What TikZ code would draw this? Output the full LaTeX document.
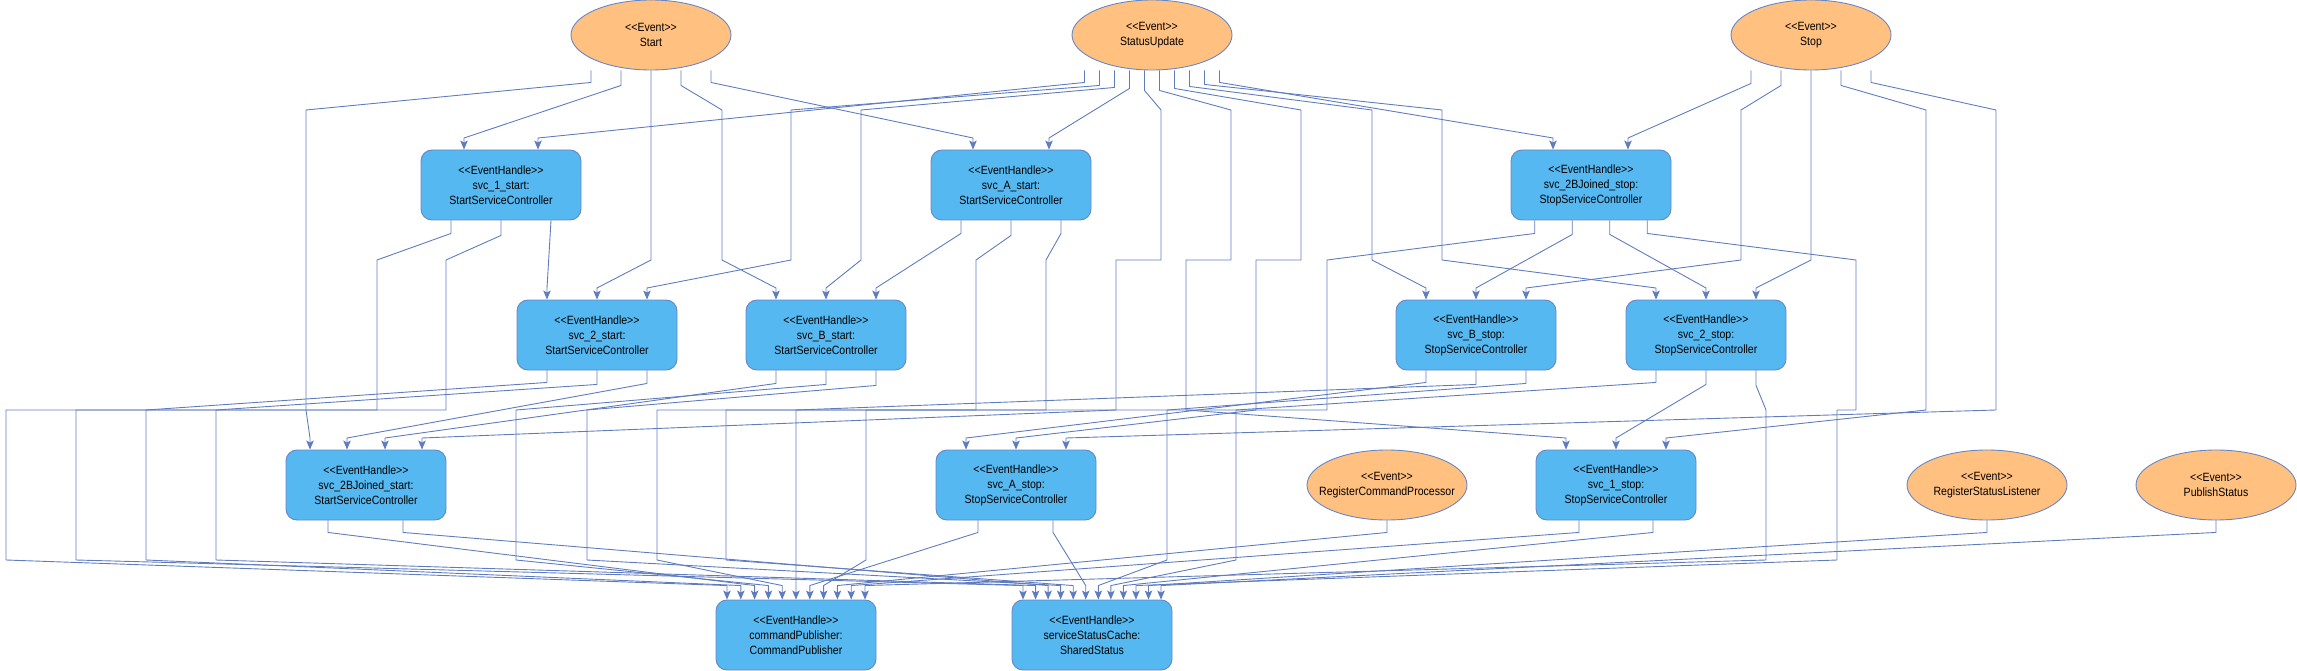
\documentclass[tikz,border=0pt]{standalone}
\usepackage{fontspec}
\setmainfont{Liberation Sans}[FakeStretch=0.88, Ligatures=TeXOff]
\usetikzlibrary{shapes.geometric, arrows.meta}
\definecolor{ec}{RGB}{96,124,192}
\definecolor{bf}{RGB}{85,184,240}
\definecolor{bc}{RGB}{104,134,196}
\definecolor{ef}{RGB}{255,192,128}
\begin{document}
\begin{tikzpicture}[x=1pt,y=-1pt,
  eh/.style={rectangle, rounded corners=11pt, draw=bc, fill=bf, line width=0.9pt,
    minimum width=160pt, minimum height=70pt, inner sep=0pt, align=center,
    font=\fontsize{12pt}{15pt}\selectfont},
  ev/.style={ellipse, draw=bc, fill=ef, line width=0.9pt,
    minimum width=160pt, minimum height=70pt, inner ysep=0pt, inner xsep=-30pt, align=center,
    font=\fontsize{12pt}{15pt}\selectfont},
  edge/.style={draw=ec, line width=0.9pt, line join=round,
    -{Stealth[length=9pt,width=7.5pt,inset=2pt]}}]
\useasboundingbox (0,0) rectangle (2297,671);
% nodes
\node[ev] (Start) at (651,35) {<<Event>>\\Start};
\node[ev] (SU) at (1152,35) {<<Event>>\\StatusUpdate};
\node[ev] (Stop) at (1811,35) {<<Event>>\\Stop};
\node[eh] (s1start) at (501,185) {<<EventHandle>>\\svc\_1\_start:\\StartServiceController};
\node[eh] (sAstart) at (1011,185) {<<EventHandle>>\\svc\_A\_start:\\StartServiceController};
\node[eh] (s2Bstop) at (1591,185) {<<EventHandle>>\\svc\_2BJoined\_stop:\\StopServiceController};
\node[eh] (s2start) at (597,335) {<<EventHandle>>\\svc\_2\_start:\\StartServiceController};
\node[eh] (sBstart) at (826,335) {<<EventHandle>>\\svc\_B\_start:\\StartServiceController};
\node[eh] (sBstop) at (1476,335) {<<EventHandle>>\\svc\_B\_stop:\\StopServiceController};
\node[eh] (s2stop) at (1706,335) {<<EventHandle>>\\svc\_2\_stop:\\StopServiceController};
\node[eh] (s2Bstart) at (366,485) {<<EventHandle>>\\svc\_2BJoined\_start:\\StartServiceController};
\node[eh] (sAstop) at (1016,485) {<<EventHandle>>\\svc\_A\_stop:\\StopServiceController};
\node[ev] (RCP) at (1387,485) {<<Event>>\\RegisterCommandProcessor};
\node[eh] (s1stop) at (1616,485) {<<EventHandle>>\\svc\_1\_stop:\\StopServiceController};
\node[ev] (RSL) at (1987,485) {<<Event>>\\RegisterStatusListener};
\node[ev] (PS) at (2216,485) {<<Event>>\\PublishStatus};
\node[eh] (cmd) at (796,635) {<<EventHandle>>\\commandPublisher:\\CommandPublisher};
\node[eh] (cache) at (1092,635) {<<EventHandle>>\\serviceStatusCache:\\SharedStatus};
% Start
\draw[edge] ([xshift=-60pt]Start.south) -- ++(0,12) -- (306,110) -- (306,410) -- (310,438) -- ([xshift=-56pt]s2Bstart.north);
\draw[edge] ([xshift=-30pt]Start.south) -- ++(0,15) -- (464,138) -- ([xshift=-37pt]s1start.north);
\draw[edge] (Start.south) -- (651,260) -- (597,288) -- (s2start.north);
\draw[edge] ([xshift=30pt]Start.south) -- ++(0,15) -- (722,110) -- (722,260) -- (776,288) -- ([xshift=-50pt]sBstart.north);
\draw[edge] ([xshift=60pt]Start.south) -- ++(0,12) -- (973,138) -- ([xshift=-38pt]sAstart.north);
% StatusUpdate
\draw[edge] ([xshift=-67.5pt]SU.south) -- ++(0,12) -- (538,138) -- ([xshift=37pt]s1start.north);
\draw[edge] ([xshift=-52.5pt]SU.south) -- ++(0,15) -- (791,110) -- (791,260) -- (647,288) -- ([xshift=50pt]s2start.north);
\draw[edge] ([xshift=-37.5pt]SU.south) -- ++(0,17) -- (861,110) -- (861,260) -- (826,288) -- (sBstart.north);
\draw[edge] ([xshift=-22.5pt]SU.south) -- ++(0,18) -- (1049,138) -- ([xshift=38pt]sAstart.north);
\draw[edge] ([xshift=-7.5pt]SU.south) -- ++(0,20) -- (1161,110) -- (1161,260) -- (1116,260) -- (1116,410) -- (422,438) -- ([xshift=56pt]s2Bstart.north);
\draw[edge] ([xshift=7.5pt]SU.south) -- ++(0,20) -- (1231,110) -- (1231,260) -- (1186,260) -- (1186,410) -- (1566,438) -- ([xshift=-50pt]s1stop.north);
\draw[edge] ([xshift=22.5pt]SU.south) -- ++(0,18) -- (1301,110) -- (1301,260) -- (1256,260) -- (1256,410) -- (1016,438) -- (sAstop.north);
\draw[edge] ([xshift=37.5pt]SU.south) -- ++(0,16) -- (1372,110) -- (1372,260) -- (1426,288) -- ([xshift=-50pt]sBstop.north);
\draw[edge] ([xshift=52.5pt]SU.south) -- ++(0,14) -- (1442,110) -- (1442,260) -- (1656,288) -- ([xshift=-50pt]s2stop.north);
\draw[edge] ([xshift=67.5pt]SU.south) -- ++(0,12) -- (1553,138) -- ([xshift=-38pt]s2Bstop.north);
% Stop
\draw[edge] ([xshift=-60pt]Stop.south) -- ++(0,13) -- (1628,138) -- ([xshift=37pt]s2Bstop.north);
\draw[edge] ([xshift=-30pt]Stop.south) -- ++(0,15) -- (1741,110) -- (1741,260) -- (1526,288) -- ([xshift=50pt]sBstop.north);
\draw[edge] (Stop.south) -- (1811,260) -- (1756,288) -- ([xshift=50pt]s2stop.north);
\draw[edge] ([xshift=30pt]Stop.south) -- ++(0,15) -- (1926,110) -- (1926,410) -- (1666,438) -- ([xshift=50pt]s1stop.north);
\draw[edge] ([xshift=60pt]Stop.south) -- ++(0,12) -- (1996,110) -- (1996,410) -- (1066,438) -- ([xshift=50pt]sAstop.north);
% svc_1_start
\draw[edge] ([xshift=-50pt]s1start.south) -- ++(0,13) -- (377,260) -- (377,410) -- (6,410) -- (6,560) -- ([xshift=-69pt,yshift=14pt]cmd.north) -- ([xshift=-69pt]cmd.north);
\draw[edge] (s1start.south) -- ++(0,15) -- (446,260) -- (446,410) -- (76,410) -- (76,560) -- ([xshift=-69pt,yshift=14pt]cache.north) -- ([xshift=-69pt]cache.north);
\draw[edge] ([xshift=50pt]s1start.south) -- (547,288) -- ([xshift=-50pt]s2start.north);
% svc_A_start
\draw[edge] ([xshift=-50pt]sAstart.south) -- ++(0,13) -- (876,288) -- ([xshift=50pt]sBstart.north);
\draw[edge] (sAstart.south) -- ++(0,15) -- (976,260) -- (976,410) -- (657,410) -- (657,560) -- ([xshift=-13.8pt,yshift=14pt]cmd.north) -- ([xshift=-13.8pt]cmd.north);
\draw[edge] ([xshift=50pt]sAstart.south) -- ++(0,13) -- (1046,260) -- (1046,410) -- (726,410) -- (726,560) -- ([xshift=-18.8pt,yshift=14pt]cache.north) -- ([xshift=-18.8pt]cache.north);
% svc_2BJoined_stop
\draw[edge] ([xshift=-56.25pt]s2Bstop.south) -- ++(0,13) -- (1327,260) -- (1327,410) -- (866,410) -- (866,560) -- ([xshift=27.6pt,yshift=14pt]cmd.north) -- ([xshift=27.6pt]cmd.north);
\draw[edge] ([xshift=-18.75pt]s2Bstop.south) -- ++(0,14) -- (1476,288) -- (sBstop.north);
\draw[edge] ([xshift=18.75pt]s2Bstop.south) -- ++(0,14) -- (1706,288) -- (s2stop.north);
\draw[edge] ([xshift=56.25pt]s2Bstop.south) -- ++(0,13) -- (1856,260) -- (1856,410) -- (1837,410) -- (1837,560) -- ([xshift=43.95pt,yshift=14pt]cache.north) -- ([xshift=43.95pt]cache.north);
% svc_2_start
\draw[edge] ([xshift=-50pt]s2start.south) -- ++(0,12) -- (146,410) -- (146,560) -- ([xshift=-55.2pt,yshift=14pt]cmd.north) -- ([xshift=-55.2pt]cmd.north);
\draw[edge] (s2start.south) -- ++(0,14) -- (216,410) -- (216,560) -- ([xshift=-56.45pt,yshift=14pt]cache.north) -- ([xshift=-56.45pt]cache.north);
\draw[edge] ([xshift=50pt]s2start.south) -- ++(0,13) -- (347,438) -- ([xshift=-19pt]s2Bstart.north);
% svc_B_start
\draw[edge] ([xshift=-50pt]sBstart.south) -- ++(0,13) -- (385,438) -- ([xshift=19pt]s2Bstart.north);
\draw[edge] (sBstart.south) -- ++(0,14) -- (516,410) -- (516,560) -- ([xshift=-27.6pt,yshift=14pt]cmd.north) -- ([xshift=-27.6pt]cmd.north);
\draw[edge] ([xshift=50pt]sBstart.south) -- ++(0,15) -- (587,410) -- (587,560) -- ([xshift=-31.35pt,yshift=14pt]cache.north) -- ([xshift=-31.35pt]cache.north);
% svc_B_stop
\draw[edge] ([xshift=-50pt]sBstop.south) -- ++(0,12) -- (966,438) -- ([xshift=-50pt]sAstop.north);
\draw[edge] (sBstop.south) -- ++(0,14) -- (796,410) -- (cmd.north);
\draw[edge] ([xshift=50pt]sBstop.south) -- ++(0,13) -- (1167,410) -- (1167,560) -- ([xshift=6.3pt,yshift=14pt]cache.north) -- ([xshift=6.3pt]cache.north);
% svc_2_stop
\draw[edge] ([xshift=-50pt]s2stop.south) -- ++(0,12) -- (1236,410) -- (1236,560) -- ([xshift=18.85pt,yshift=14pt]cache.north) -- ([xshift=18.85pt]cache.north);
\draw[edge] (s2stop.south) -- ++(0,14) -- (1616,438) -- (s1stop.north);
\draw[edge] ([xshift=50pt]s2stop.south) -- ++(0,15) -- (1766,410) -- (1766,560) -- ([xshift=69pt,yshift=14pt]cmd.north) -- ([xshift=69pt]cmd.north);
% layer 3
\draw[edge] ([xshift=-38pt]s2Bstart.south) -- ++(0,12) -- ([xshift=-41.4pt,yshift=14pt]cmd.north) -- ([xshift=-41.4pt]cmd.north);
\draw[edge] ([xshift=37pt]s2Bstart.south) -- ++(0,12) -- ([xshift=-43.9pt,yshift=14pt]cache.north) -- ([xshift=-43.9pt]cache.north);
\draw[edge] ([xshift=-38pt]sAstop.south) -- ++(0,12) -- ([xshift=13.8pt,yshift=14pt]cmd.north) -- ([xshift=13.8pt]cmd.north);
\draw[edge] ([xshift=37pt]sAstop.south) -- ++(0,12) -- ([xshift=-6.25pt,yshift=14pt]cache.north) -- ([xshift=-6.25pt]cache.north);
\draw[edge] (RCP.south) -- ++(0,12) -- ([xshift=41.4pt,yshift=14pt]cmd.north) -- ([xshift=41.4pt]cmd.north);
\draw[edge] ([xshift=-37pt]s1stop.south) -- ++(0,12) -- ([xshift=55.2pt,yshift=14pt]cmd.north) -- ([xshift=55.2pt]cmd.north);
\draw[edge] ([xshift=37pt]s1stop.south) -- ++(0,12) -- ([xshift=31.4pt,yshift=14pt]cache.north) -- ([xshift=31.4pt]cache.north);
\draw[edge] (RSL.south) -- ++(0,12) -- ([xshift=56.5pt,yshift=14pt]cache.north) -- ([xshift=56.5pt]cache.north);
\draw[edge] (PS.south) -- ++(0,12) -- ([xshift=69pt,yshift=14pt]cache.north) -- ([xshift=69pt]cache.north);
\end{tikzpicture}
\end{document}
